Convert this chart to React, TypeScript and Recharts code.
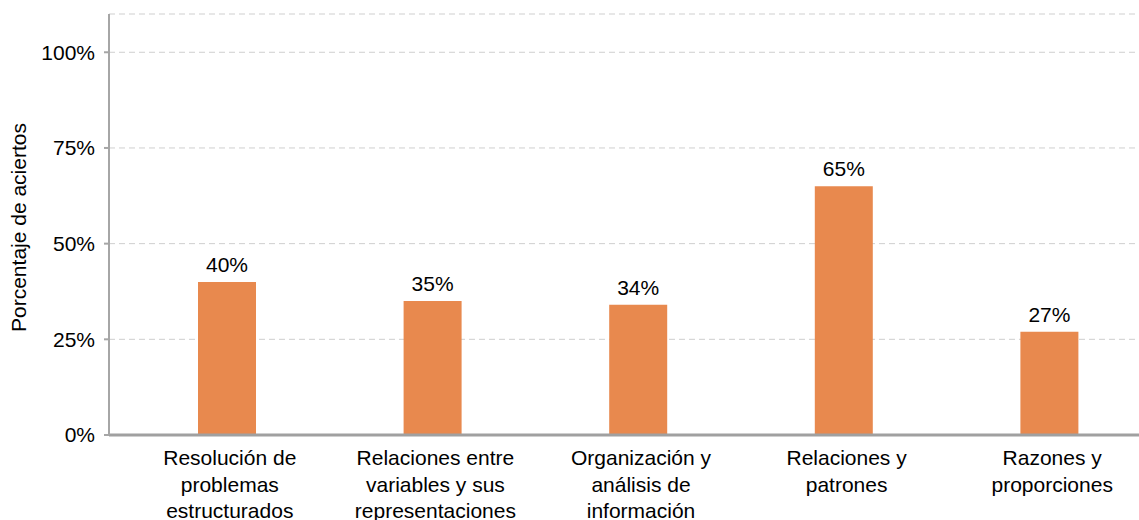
import React from "react";
import { BarChart, Bar, XAxis, YAxis, CartesianGrid, LabelList, Label } from "recharts";

const categories = [
  "Resolución de\nproblemas\nestructurados",
  "Relaciones entre\nvariables y sus\nrepresentaciones",
  "Organización y\nanálisis de\ninformación",
  "Relaciones y\npatrones",
  "Razones y\nproporciones",
];
const values = [40, 35, 34, 65, 27];
const yTicks = [0, 25, 50, 75, 100];
const yLabel = "Porcentaje de aciertos";

const data = categories.map((c, i) => ({ name: c, value: values[i] }));

const FONT = "'Liberation Sans', Arial, Helvetica, sans-serif";
const FS = 21;

const CatTick = (props: any) => {
  const { x, y, payload } = props;
  const lines = String(payload.value).split("\n");
  return (
    <text x={x + 3} y={y} textAnchor="middle" fill="#000" fontSize={FS} fontFamily={FONT}>
      {lines.map((l: string, i: number) => (
        <tspan key={i} x={x + 3} dy={i === 0 ? 30 : 26.5}>
          {l}
        </tspan>
      ))}
    </text>
  );
};

export default function App() {
  return (
    <div
      style={{
        position: "fixed",
        left: 0,
        top: 0,
        width: 1139,
        height: 520,
        overflow: "hidden",
        background: "#fff",
      }}
    >
      <BarChart
        width={1160}
        height={520}
        data={data}
        margin={{ top: 14, right: 8, bottom: 0, left: 0 }}
        style={{ fontFamily: FONT }}
      >
        <CartesianGrid vertical={false} stroke="#CFCFCF" strokeDasharray="6 4" />
        <XAxis
          dataKey="name"
          height={85}
          padding={{ left: 15, right: 0 }}
          axisLine={{ stroke: "#A0A0A0", strokeWidth: 3 }}
          tickLine={false}
          tickSize={0}
          tickMargin={0}
          interval={0}
          tick={<CatTick />}
        />
        <YAxis
          width={109}
          domain={[0, 110]}
          ticks={yTicks}
          allowDataOverflow
          tickFormatter={(v: number) => `${v}%`}
          tick={{ fill: "#000", fontSize: FS, fontFamily: FONT }}
          axisLine={{ stroke: "#A6A6A6", strokeWidth: 2 }}
          tickLine={{ stroke: "#A6A6A6", strokeWidth: 2 }}
          tickSize={5}
          tickMargin={9}
        >
          <Label
            content={(p: any) => {
              const vb = p.viewBox || {};
              const cx = (vb.x || 0) + 18;
              const cy = (vb.y || 0) + (vb.height || 0) / 2 + 3;
              return (
                <text
                  x={cx}
                  y={cy}
                  transform={`rotate(-90, ${cx}, ${cy})`}
                  textAnchor="middle"
                  dominantBaseline="central"
                  fill="#000"
                  fontSize={FS}
                  fontFamily={FONT}
                >
                  {yLabel}
                </text>
              );
            }}
          />
        </YAxis>
        <Bar dataKey="value" fill="#E8894E" barSize={58} isAnimationActive={false}>
          <LabelList
            dataKey="value"
            position="top"
            offset={10}
            formatter={(v: any) => `${v}%`}
            fill="#000"
            fontSize={FS}
            fontFamily={FONT}
          />
        </Bar>
      </BarChart>
    </div>
  );
}
